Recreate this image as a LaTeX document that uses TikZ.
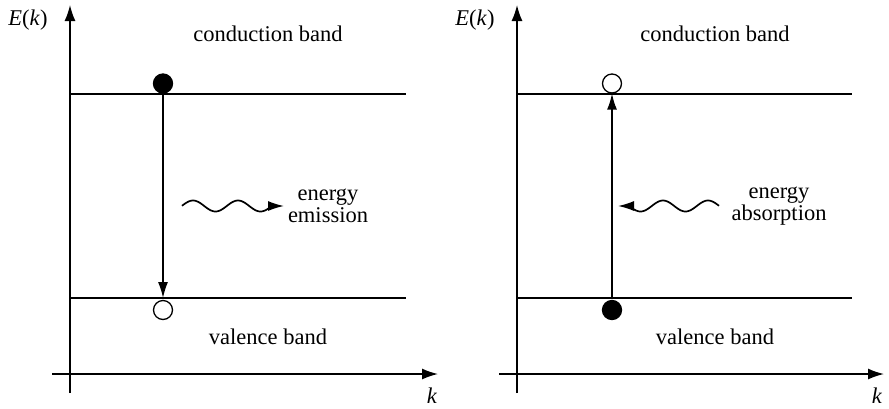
\documentclass[tikz,border=0pt]{standalone}
\usepackage{fontspec}
\setmainfont{Liberation Serif}
\usetikzlibrary{arrows.meta}
\begin{document}
\begin{tikzpicture}[x=1pt,y=-1pt,
  ax/.style={line width=1.5pt,-{Latex[length=16pt,width=11pt]}},
  bandline/.style={line width=1.5pt},
  trans/.style={line width=1.4pt,-{Latex[length=16pt,width=10pt]}},
  wave/.style={line width=1.7pt},
  lbl/.style={font=\fontsize{22.5}{26}\selectfont},
  txt/.style={font=\fontsize{22.5}{26}\selectfont, align=center},
  full/.style={circle,fill=black,draw=black,line width=1.3pt,minimum size=19pt,inner sep=0pt},
  empty/.style={circle,fill=white,draw=black,line width=1.3pt,minimum size=19pt,inner sep=0pt}]
\useasboundingbox (0,0) rectangle (889,408);
% ---------- left panel ----------
\coordinate (ly0) at (70,393);
\coordinate (ly1) at (70,5);
\coordinate (lx0) at (52,374);
\coordinate (lx1) at (438,374);
\draw[ax] (ly0) -- (ly1);
\draw[ax] (lx0) -- (lx1);
\node[lbl] (lE) at (28,20) {\textit{E}(\textit{k})};
\node[lbl] (lk) at (432,396) {\textit{k}};
\coordinate (lc0) at (70,94);
\coordinate (lc1) at (406,94);
\coordinate (lv0) at (70,298);
\coordinate (lv1) at (406,298);
\draw[bandline] (lc0) -- (lc1);
\draw[bandline] (lv0) -- (lv1);
\node[txt] (lcb) at (268,34) {conduction band};
\node[txt] (lvb) at (268,337) {valence band};
\node[full] (le) at (163,83.5) {};
\node[empty] (lh) at (163,310) {};
\coordinate (lhtop) at (163,298);
\draw[trans] (le.south) -- (lhtop);
\draw[wave] plot[variable=\t,domain=-11:79,samples=80] ({193+\t},{206-5.5*cos(8*\t)});
\coordinate (lw0) at (271,206);
\coordinate (lw1) at (284,206);
\draw[trans,line width=1.5pt] (lw0) -- (lw1);
\node[txt] (lt) at (328,206) {energy\\[-4pt]emission};
% ---------- right panel ----------
\coordinate (ry0) at (517,393);
\coordinate (ry1) at (517,5);
\coordinate (rx0) at (499,374);
\coordinate (rx1) at (884,374);
\draw[ax] (ry0) -- (ry1);
\draw[ax] (rx0) -- (rx1);
\node[lbl] (rE) at (475,20) {\textit{E}(\textit{k})};
\node[lbl] (rk) at (877,396) {\textit{k}};
\coordinate (rc0) at (517,94);
\coordinate (rc1) at (852,94);
\coordinate (rv0) at (517,298);
\coordinate (rv1) at (852,298);
\draw[bandline] (rc0) -- (rc1);
\draw[bandline] (rv0) -- (rv1);
\node[txt] (rcb) at (715,34) {conduction band};
\node[txt] (rvb) at (715,337) {valence band};
\node[empty] (rh) at (612,83.5) {};
\node[full] (re) at (612,310) {};
\coordinate (rebot) at (612,298);
\draw[trans] (rebot) -- (rh.south);
\draw[wave] plot[variable=\t,domain=-11:79,samples=80] ({708-\t},{206-5.5*cos(8*\t)});
\coordinate (rw0) at (631,206);
\coordinate (rw1) at (618,206);
\draw[trans,line width=1.5pt] (rw0) -- (rw1);
\node[txt] (rt) at (779,206) {energy\\[-4pt]absorption};
\end{tikzpicture}
\end{document}
